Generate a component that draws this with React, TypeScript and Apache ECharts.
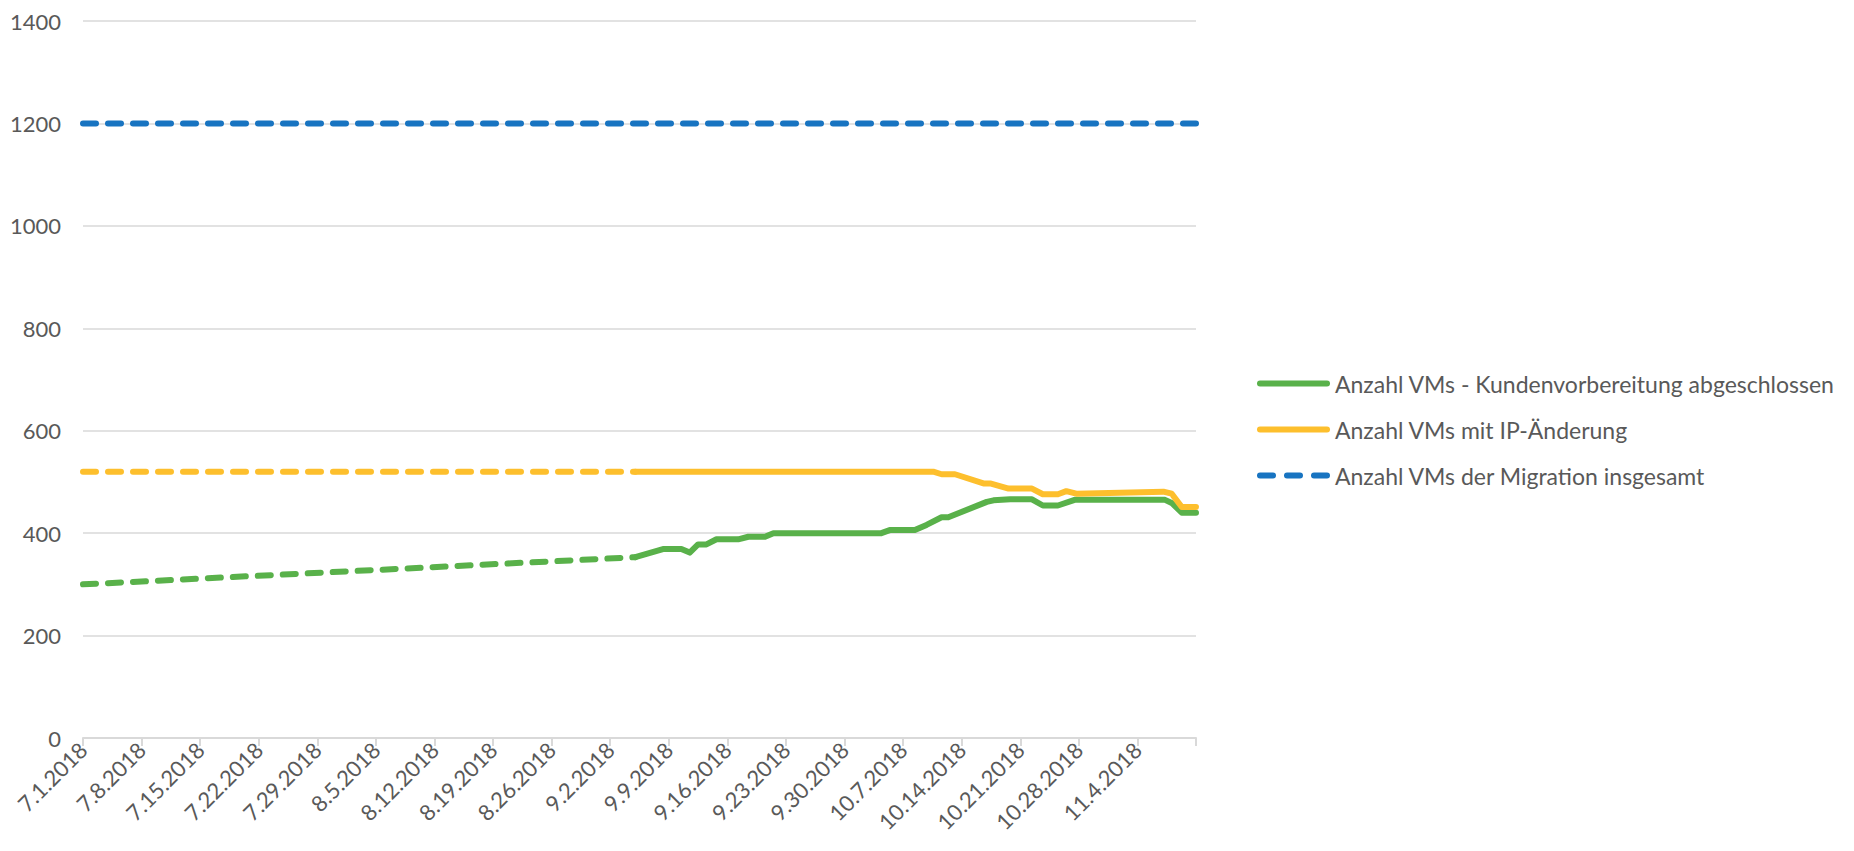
import React, { useEffect, useRef } from "react";
import * as echarts from "echarts";

// Days counted from 7.1.2018 (day 0) to 11.11.2018 (day 133)
const AXIS_MAX_DAY = 133;
const TICK_STEP_DAYS = 7;
const Y_TICKS = [0, 200, 400, 600, 800, 1000, 1200, 1400];

const SERIES_NAMES = [
  "Anzahl VMs - Kundenvorbereitung abgeschlossen",
  "Anzahl VMs mit IP-Änderung",
  "Anzahl VMs der Migration insgesamt",
];

// Green: dashed gap segment, then solid
const greenGapDays = [0, 66];
const greenGapValues = [300, 353];
const greenDays = [66, 69.3, 71.5, 72.5, 73.5, 74.5, 75.7, 78.3, 79.5, 81.5, 82.5, 95.4, 96.4, 99.4, 100.8, 102.6, 103.4, 108, 108.8, 110.8, 113.4, 114.7, 116.5, 118.5, 129.3, 130.1, 131.3, 133];
const greenValues = [353, 369, 369, 362, 378, 378, 388, 388, 393, 393, 400, 400, 406, 406, 416, 431, 431, 461, 464, 466, 466, 454, 454, 465, 465, 459, 440, 440];

// Yellow: dashed gap segment, then solid
const yellowGapDays = [0, 66];
const yellowGapValues = [520, 520];
const yellowDays = [66, 101.6, 102.6, 104.2, 107.6, 108.4, 110.6, 113.4, 114.7, 116.5, 117.5, 118.7, 129.1, 130.1, 131.3, 133];
const yellowValues = [520, 520, 515, 515, 497, 497, 487, 487, 476, 476, 482, 477, 481, 477, 451, 451];

// Blue: total, dashed
const blueDays = [0, 133];
const blueValues = [1200, 1200];

const GREEN = "#59B14A";
const YELLOW = "#FDBF2D";
const BLUE = "#1874C1";
const DASH = [13, 12];
const LINE_W = 6;

const SOLID_ICON = "path://M3,0 H70 A3,3 0 0 1 70,6 H3 A3,3 0 0 1 3,0 Z";
const DASHED_ICON =
  "path://M3,0 H16 A3,3 0 0 1 16,6 H3 A3,3 0 0 1 3,0 Z M30,0 H43 A3,3 0 0 1 43,6 H30 A3,3 0 0 1 30,0 Z M57,0 H70 A3,3 0 0 1 70,6 H57 A3,3 0 0 1 57,0 Z";

const pairs = (xs: number[], ys: number[]) => xs.map((x, i) => [x, ys[i]]);

const dayLabel = (day: number) => {
  const d = new Date(Date.UTC(2018, 6, 1) + Math.round(day) * 86400000);
  return `${d.getUTCMonth() + 1}.${d.getUTCDate()}.2018`;
};

export default function App() {
  const ref = useRef<HTMLDivElement>(null);
  useEffect(() => {
    if (!ref.current) return;
    const chart = echarts.init(ref.current, undefined, { renderer: "svg" });
    const lineBase = (color: string, dashed: boolean) => ({
      color,
      width: LINE_W,
      cap: "round" as const,
      join: "round" as const,
      type: dashed ? DASH : "solid",
    });
    chart.setOption({
      animation: false,
      textStyle: { fontFamily: "Lato", color: "#595959" },
      grid: { left: 83, right: 658, top: 21, bottom: 113, containLabel: false },
      legend: {
        orient: "vertical",
        left: 1257,
        top: 372,
        padding: 0,
        itemWidth: 73,
        itemHeight: 6,
        itemGap: 23,
        data: [
          { name: SERIES_NAMES[0], icon: SOLID_ICON },
          { name: SERIES_NAMES[1], icon: SOLID_ICON },
          { name: SERIES_NAMES[2], icon: DASHED_ICON },
        ],
        textStyle: { fontSize: 23, color: "#595959", fontFamily: "Lato" },
        selectedMode: false,
      },
      xAxis: {
        type: "value",
        min: 0,
        max: AXIS_MAX_DAY,
        interval: TICK_STEP_DAYS,
        axisLine: { show: true, lineStyle: { color: "#d9d9d9", width: 2 } },
        axisTick: { show: true, length: 8, lineStyle: { color: "#d9d9d9", width: 2 } },
        splitLine: { show: false },
        axisLabel: {
          rotate: 45,
          fontSize: 22,
          color: "#595959",
          margin: 8,
          formatter: (v: number) => (v >= AXIS_MAX_DAY ? "" : dayLabel(v)),
        },
      },
      yAxis: {
        type: "value",
        min: Y_TICKS[0],
        max: Y_TICKS[Y_TICKS.length - 1],
        interval: 200,
        axisLine: { show: false },
        axisTick: { show: false },
        splitLine: { lineStyle: { color: "#d9d9d9", width: 1.5 } },
        axisLabel: { fontSize: 22, color: "#595959", margin: 22, formatter: (v: number) => String(v) },
      },
      series: [
        {
          name: SERIES_NAMES[0],
          type: "line",
          symbol: "none",
          data: pairs(greenDays, greenValues),
          lineStyle: lineBase(GREEN, false),
          itemStyle: { color: GREEN },
          z: 2,
        },
        {
          name: SERIES_NAMES[0] + " (Lücke)",
          type: "line",
          symbol: "none",
          data: pairs(greenGapDays, greenGapValues),
          lineStyle: lineBase(GREEN, true),
          itemStyle: { color: GREEN },
          z: 2,
        },
        {
          name: SERIES_NAMES[1],
          type: "line",
          symbol: "none",
          data: pairs(yellowDays, yellowValues),
          lineStyle: lineBase(YELLOW, false),
          itemStyle: { color: YELLOW },
          z: 3,
        },
        {
          name: SERIES_NAMES[1] + " (Lücke)",
          type: "line",
          symbol: "none",
          data: pairs(yellowGapDays, yellowGapValues),
          lineStyle: lineBase(YELLOW, true),
          itemStyle: { color: YELLOW },
          z: 3,
        },
        {
          name: SERIES_NAMES[2],
          type: "line",
          symbol: "none",
          data: pairs(blueDays, blueValues),
          lineStyle: lineBase(BLUE, true),
          itemStyle: { color: BLUE },
          z: 4,
        },
      ],
    });
    return () => chart.dispose();
  }, []);
  return (
    <div
      ref={ref}
      style={{ position: "fixed", left: 0, top: 0, width: 1854, height: 851, background: "#fff" }}
    />
  );
}
